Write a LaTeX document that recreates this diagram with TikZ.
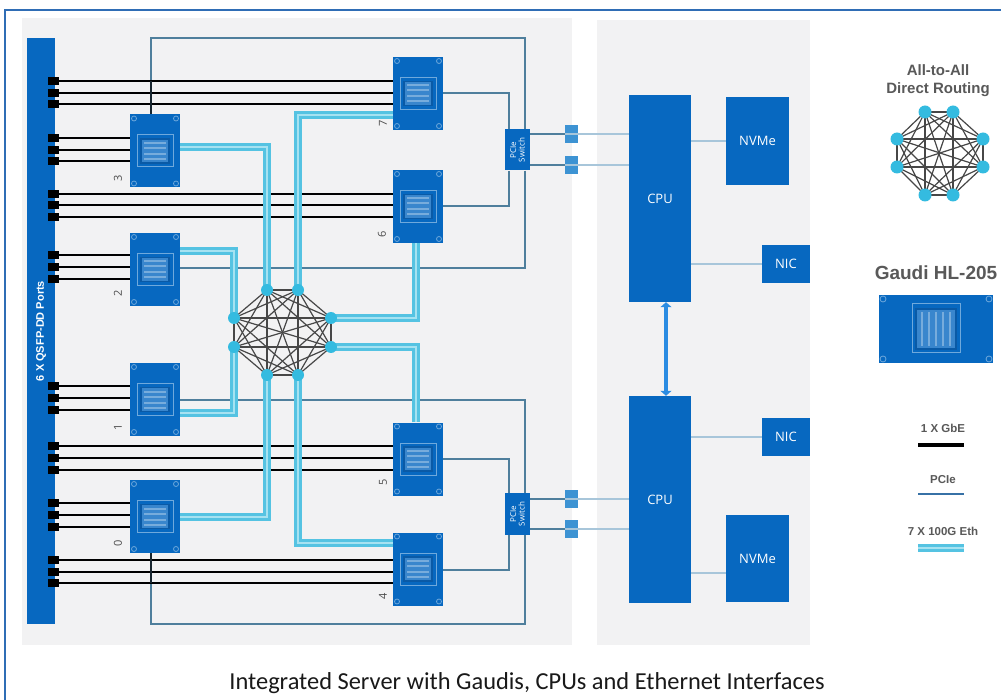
\documentclass[tikz,border=0pt]{standalone}
\usepackage{fontspec}
\setmainfont{Open Sans}
\newfontfamily\capfont{Carlito}
\newfontfamily\legfont{Liberation Sans}
\usetikzlibrary{arrows.meta}
\definecolor{chipblue}{HTML}{0768C0}
\definecolor{chipdark}{HTML}{0A5AA6}
\definecolor{chipedge}{HTML}{6FA9DC}
\definecolor{panelgray}{HTML}{F2F2F3}
\definecolor{pcieline}{HTML}{4F7F9C}
\definecolor{pcielight}{HTML}{A8C6DA}
\definecolor{ethcyan}{HTML}{55C3E2}
\definecolor{ethpale}{HTML}{A6E2F1}
\definecolor{nodecyan}{HTML}{34BBE0}
\definecolor{portblue}{HTML}{3D93D3}
\definecolor{framec}{HTML}{2F6DB5}
\definecolor{arrowblue}{HTML}{2B8CE2}
\tikzset{
 x=1pt,y=-1pt,
 panel/.style={fill=panelgray,draw=none},
 gbe/.style={draw=black,line width=2.6pt},
 pcie/.style={draw=pcieline,line width=1.5pt},
 pcieright/.style={draw=pcielight,line width=1.8pt},
 eth/.style={draw=ethcyan,line width=2.6pt,double=ethpale,double distance=2.6pt},
 bluebox/.style={fill=chipblue,draw=none,text=white,inner sep=0pt,align=center,font=\fontsize{13}{15}\selectfont},
 chiplabel/.style={rotate=90,font=\fontsize{11}{12}\selectfont,text=black!70,inner sep=0pt},
 meshline/.style={draw=black!72,line width=1.2pt},
 meshnode/.style={circle,fill=nodecyan,draw=none,inner sep=0pt,minimum size=#1},
 portsq/.style={fill=black,draw=none,minimum width=11pt,minimum height=8pt,inner sep=0pt},
 linksq/.style={fill=portblue,draw=none,minimum width=13pt,minimum height=8pt,inner sep=0pt},
 swtext/.style={rotate=90,text=white,font=\fontsize{8}{8.5}\selectfont,align=center,inner sep=0pt},
 legend/.style={font=\legfont\bfseries\fontsize{15}{18}\selectfont,text=black!65,align=center,inner sep=0pt},
 legsmall/.style={legend,font=\legfont\bfseries\fontsize{11.5}{13}\selectfont},
}
\newcommand{\gaudichip}[3]{%
 \node[bluebox,minimum width=50pt,minimum height=73pt] (#1) at (#2,#3) {};
 \draw[chipedge,line width=1pt,fill=chipblue] (#2-18,#3-16) rectangle (#2+18,#3+16);
 \draw[chipdark,line width=1.2pt,fill=chipblue!80!white] (#2-14,#3-12) rectangle (#2+14,#3+12);
 \foreach \k in {-8,-3,3,8}{\draw[chipblue!55!white,line width=2pt] (#2-11,#3+\k) -- (#2+11,#3+\k);}
 \foreach \sx/\sy in {-21/-32.5,21/-32.5,-21/32.5,21/32.5}{\draw[chipedge,line width=.8pt] (#2+\sx,#3+\sy) circle (2.5pt);}
}
\begin{document}
\begin{tikzpicture}
\useasboundingbox (0,0) rectangle (1001,700);
\fill[white] (0,0) rectangle (1001,700);
\draw[framec,line width=1.2pt] (5,700) -- (5,10) -- (1001,10);
\fill[panel] (22,18) rectangle (572,645);
\fill[panel] (597,20) rectangle (810,645);

% bar
\node[bluebox,minimum width=28pt,minimum height=586pt] (bar) at (41,331) {};
\node[rotate=90,text=white,font=\legfont\bfseries\fontsize{11}{12}\selectfont] (barlabel) at (41,331) {6 X QSFP-DD Ports};

% chips
\gaudichip{c3}{155}{151}
\gaudichip{c2}{155}{269.5}
\gaudichip{c1}{155}{399.5}
\gaudichip{c0}{155}{516.5}
\gaudichip{c7}{418}{93.5}
\gaudichip{c6}{418}{206.5}
\gaudichip{c5}{418}{459}
\gaudichip{c4}{418}{569}
\node[chiplabel] (n3) at (118,178) {3};
\node[chiplabel] (n2) at (118,293) {2};
\node[chiplabel] (n1) at (118,427) {1};
\node[chiplabel] (n0) at (118,543) {0};
\node[chiplabel] (n7) at (383,123) {7};
\node[chiplabel] (n6) at (382,234) {6};
\node[chiplabel] (n5) at (383,482) {5};
\node[chiplabel] (n4) at (383,596) {4};

% switches
\node[bluebox,minimum width=25pt,minimum height=41pt] (sw1) at (517.5,150) {};
\node[bluebox,minimum width=25pt,minimum height=42pt] (sw2) at (517.5,514) {};

% CPUs etc
\node[bluebox,minimum width=62pt,minimum height=207pt] (cpu1) at (660,198.5) {CPU};
\node[bluebox,minimum width=62pt,minimum height=207pt] (cpu2) at (660,499.5) {CPU};
\node[bluebox,minimum width=63pt,minimum height=88pt] (nv1) at (757.5,141) {NVMe};
\node[bluebox,minimum width=63pt,minimum height=87pt] (nv2) at (757.5,558.5) {NVMe};
\node[bluebox,minimum width=48pt,minimum height=38pt] (nic1) at (786,264) {NIC};
\node[bluebox,minimum width=48pt,minimum height=38pt] (nic2) at (786,437) {NIC};

% mesh
\foreach \n/\x/\y in {a/267/290,b/298/290,c/331/318,d/331/347,e/298/375,f/267/375,g/234/347,h/234/318}{\coordinate (m\n) at (\x,\y);}
\foreach \n/\x/\y in {a/925/112,b/953/112,c/983/139,d/983/167,e/953/195,f/925/195,g/897/167,h/897/139}{\coordinate (l\n) at (\x,\y);}

% PCIe lines
\draw[pcie] (c3.north -| 151,0) -- (151,38) -- (525,38) -- (sw1.north -| 525,0);
\draw[pcie] (sw1.south -| 525,0) -- (525,268) -- (c2.east |- 0,268);
\draw[pcie] (c1.east |- 0,400) -- (525,400) -- (sw2.north -| 525,0);
\draw[pcie] (c0.south -| 151,0) -- (151,624) -- (525,624) -- (sw2.south -| 525,0);
\draw[pcie] (c7.east |- 0,93) -- (509,93) -- (sw1.north -| 509,0);
\draw[pcie] (c6.east |- 0,206) -- (509,206) -- (sw1.south -| 509,0);
\draw[pcie] (c5.east |- 0,459) -- (509,459) -- (sw2.north -| 509,0);
\draw[pcie] (c4.east |- 0,570) -- (509,570) -- (sw2.south -| 509,0);
\draw[pcieright] (sw1.east |- 0,134) -- (cpu1.west |- 0,134);
\draw[pcieright] (sw1.east |- 0,165) -- (cpu1.west |- 0,165);
\draw[pcieright] (sw2.east |- 0,499) -- (cpu2.west |- 0,499);
\draw[pcieright] (sw2.east |- 0,529) -- (cpu2.west |- 0,529);
\draw[pcieright] (cpu1.east |- nv1) -- (nv1.west);
\draw[pcieright] (cpu1.east |- nic1) -- (nic1.west);
\draw[pcieright] (cpu2.east |- nic2) -- (nic2.west);
\draw[pcieright] (cpu2.east |- 0,573) -- (nv2.west |- 0,573);
\draw[pcie] (sw1.east |- 0,134) -- (565,134);
\draw[pcie] (sw1.east |- 0,165) -- (565,165);
\draw[pcie] (sw2.east |- 0,499) -- (565,499);
\draw[pcie] (sw2.east |- 0,529) -- (565,529);

% switches redrawn over lines
\node[bluebox,minimum width=25pt,minimum height=41pt] (sw1b) at (sw1) {};
\node[swtext] (sw1t) at (sw1) {PCIe\\Switch};
\node[bluebox,minimum width=25pt,minimum height=42pt] (sw2b) at (sw2) {};
\node[swtext] (sw2t) at (sw2) {PCIe\\Switch};

% small link squares
\foreach \nm/\y in {p1/134,p2/165,p3/499,p4/529}{
 \node[linksq] (\nm a) at (571.5,\y-5) {};
 \node[linksq] (\nm b) at (571.5,\y+5) {};
}

% GbE
\foreach \nm/\ya/\yb/\yc/\t in {g1/81/93/104/c7,g2/138/150/161/c3,g3/194/205/217/c6,g4/255/267/279/c2,g5/386/398/410/c1,g6/446/458/470/c5,g7/503/515/527/c0,g8/560/572/583/c4}{
 \foreach \i/\yy in {a/\ya,b/\yb,c/\yc}{
  \draw[gbe] (53.5,\yy) -- (\t.west |- 0,\yy);
  \node[portsq] (\nm\i) at (53.5,\yy) {};
 }
}
% PCIe drop over the GbE lines
\draw[pcie,draw=black!70!pcieline] (c3.north -| 151,0) -- (151,81);
\draw[pcie,draw=black!70!pcieline] (c0.south -| 151,0) -- (151,583);

% Eth
\draw[eth] (c3.east |- 0,147) -- (267,147) -- (ma);
\draw[eth] (c2.east |- 0,251) -- (234,251) -- (mh);
\draw[eth] (c1.east |- 0,413) -- (234,413) -- (mg);
\draw[eth] (c0.east |- 0,517) -- (267,517) -- (mf);
\draw[eth] (c7.west |- 0,115) -- (298,115) -- (mb);
\draw[eth] (c6.south -| 416,0) -- (416,318) -- (mc);
\draw[eth] (c5.north -| 416,0) -- (416,347) -- (md);
\draw[eth] (c4.west |- 0,543) -- (298,543) -- (me);

% mesh lines
\foreach \p [count=\i] in {a,b,c,d,e,f,g,h}{
 \foreach \q [count=\j] in {a,b,c,d,e,f,g,h}{
  \ifnum\i<\j
   \draw[meshline] (m\p) -- (m\q);
   \draw[meshline] (l\p) -- (l\q);
  \fi
 }
}
\foreach \p in {a,b,c,d,e,f,g,h}{
 \node[meshnode=12pt] (dot\p) at (m\p) {};
 \node[meshnode=13pt] (ldot\p) at (l\p) {};
}

% double arrow
\draw[{Triangle[length=5pt,width=11pt]}-{Triangle[length=5pt,width=11pt]},draw=arrowblue,line width=4pt] (cpu1.south -| 666,0) -- (cpu2.north -| 666,0);

% legend
\node[legend] (t1) at (938,81) {All-to-All\\Direct Routing};
\node[legend,font=\legfont\bfseries\fontsize{19}{21}\selectfont] (t2) at (936,273) {Gaudi HL-205};
\node[bluebox,minimum width=114pt,minimum height=68pt] (lchip) at (936,329) {};
\draw[chipedge,line width=1pt,fill=chipblue] (912,304) rectangle (960,353);
\draw[chipdark,line width=1.2pt,fill=chipblue!80!white] (916,309) rectangle (956,349);
\foreach \k in {-14,-7,0,7,14}{\draw[chipblue!55!white,line width=2pt] (936+\k,312) -- (936+\k,346);}
\foreach \sx/\sy in {883/299,989/299,883/359,989/359}{\draw[chipedge,line width=.8pt] (\sx,\sy) circle (3pt);}
\node[legsmall] (t3) at (943,428) {1 X GbE};
\coordinate (k1) at (918,445); \coordinate (k2) at (964,445);
\draw[gbe,line width=3.2pt] (k1) -- (k2);
\node[legsmall] (t4) at (943,480) {PCIe};
\coordinate (k3) at (918,494); \coordinate (k4) at (964,494);
\draw[pcie,draw=chipblue!60!gray] (k3) -- (k4);
\node[legsmall] (t5) at (943,531) {7 X 100G Eth};
\coordinate (k5) at (918,548); \coordinate (k6) at (964,548);
\draw[eth] (k5) -- (k6);

% caption
\node[font=\capfont\fontsize{24.4}{26}\selectfont,text=black!90,inner sep=0pt,anchor=center] (cap) at (527,683) {Integrated Server with Gaudis, CPUs and Ethernet Interfaces};
\end{tikzpicture}
\end{document}
